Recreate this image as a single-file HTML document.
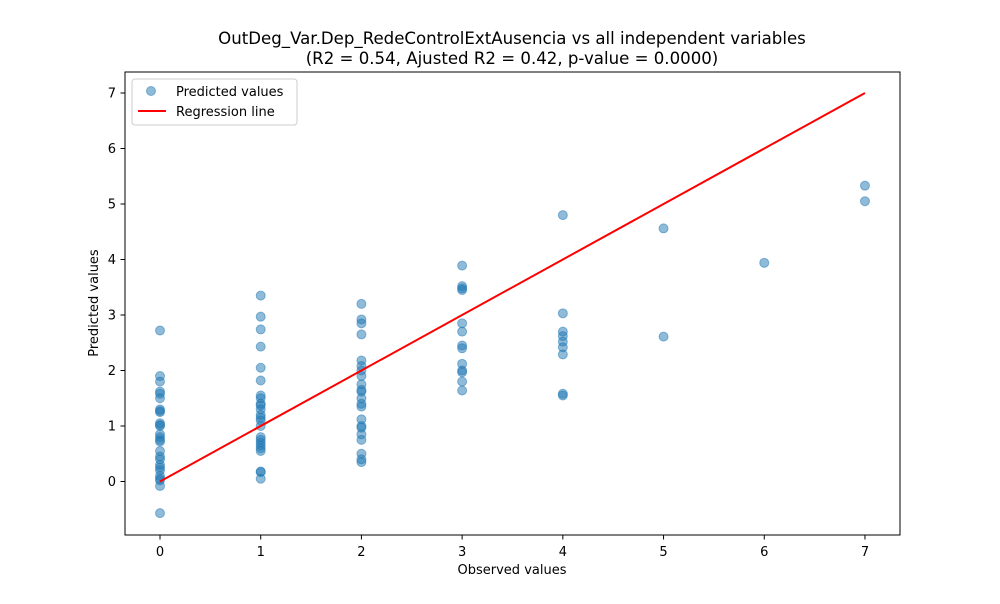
<!DOCTYPE html>
<html><head><meta charset="utf-8"><style>
body{margin:0;background:#fff;font-family:"DejaVu Sans","Liberation Sans",sans-serif}
</style></head><body>
<svg id="chart" width="1000" height="600" xmlns="http://www.w3.org/2000/svg" font-family="DejaVu Sans, Liberation Sans, sans-serif">
<rect width="1000" height="600" fill="#fff"/>
<text x="512" y="44" font-size="16.6" text-anchor="middle">OutDeg_Var.Dep_RedeControlExtAusencia vs all independent variables</text>
<text x="512" y="64" font-size="16.6" text-anchor="middle">(R2 = 0.54, Ajusted R2 = 0.42, p-value = 0.0000)</text>
<g id="ticks"></g>
<g id="points"></g>
<g id="line"></g>
<rect x="125" y="72" width="775" height="463" fill="none" stroke="#000" stroke-width="1"/>
<text x="512" y="574" font-size="13" text-anchor="middle">Observed values</text>
<text x="98" y="303" font-size="13" text-anchor="middle" transform="rotate(-90 98 303)">Predicted values</text>
<g>
<rect x="132" y="79" width="165" height="46" rx="3" fill="#fff" stroke="#ccc"/>
<circle cx="151" cy="91" r="4.5" fill="#1f77b4" fill-opacity="0.5" stroke="#1f77b4" stroke-opacity="0.5"/>
<text x="176" y="96" font-size="13">Predicted values</text>
<line x1="138" y1="111" x2="166" y2="111" stroke="red" stroke-width="2"/>
<text x="176" y="116" font-size="13">Regression line</text>
</g>
</svg>
<script>
const xTicks=[0,1,2,3,4,5,6,7];
const yTicks=[0,1,2,3,4,5,6,7];
const obsX=[0,0,0,0,0,0,0,0,0,0,0,0,0,0,0,0,0,0,0,0,0,0,0,0,0,0,0,
1,1,1,1,1,1,1,1,1,1,1,1,1,1,1,1,1,1,1,1,1,1,1,1,
2,2,2,2,2,2,2,2,2,2,2,2,2,2,2,2,2,2,2,2,2,2,
3,3,3,3,3,3,3,3,3,3,3,3,3,
4,4,4,4,4,4,4,4,4,5,5,6,7,7];
const predY=[2.72,1.9,1.8,1.62,1.58,1.5,1.3,1.27,1.25,1.05,1.02,1.0,0.85,0.8,0.75,0.72,0.55,0.45,0.4,0.3,0.25,0.2,0.1,0.05,0.02,-0.08,-0.57,
3.35,2.97,2.74,2.43,2.05,1.82,1.55,1.5,1.4,1.37,1.3,1.2,1.15,1.1,1.0,0.8,0.75,0.7,0.65,0.6,0.55,0.18,0.17,0.05,
3.2,2.92,2.85,2.65,2.18,2.08,2.0,1.9,1.75,1.65,1.62,1.5,1.4,1.35,1.12,1.0,0.97,0.85,0.75,0.5,0.4,0.35,
3.89,3.52,3.48,3.45,2.85,2.7,2.45,2.4,2.12,2.0,1.97,1.8,1.64,
4.8,3.03,2.7,2.62,2.52,2.42,2.29,1.58,1.55,4.56,2.61,3.94,5.33,5.05];
const lineX=[0,7];
const NS='http://www.w3.org/2000/svg';
const sx=v=>160+v*100.71, sy=v=>481.5-v*55.5;
function mk(t,a,p){const e=document.createElementNS(NS,t);for(const k in a)e.setAttribute(k,a[k]);p.appendChild(e);return e;}
const tg=document.getElementById('ticks');
xTicks.forEach(t=>{
const l=mk('line',{x1:sx(t),x2:sx(t),y1:535,y2:539.5,stroke:'#000'},tg);


const tx=mk('text',{x:sx(t),y:556,'font-size':13,'text-anchor':'middle'},tg);tx.textContent=t;


});
yTicks.forEach(t=>{
const l=mk('line',{x1:120.5,x2:125,y1:sy(t),y2:sy(t),stroke:'#000'},tg);


const tx=mk('text',{x:116,y:sy(t)+4.5,'font-size':13,'text-anchor':'end'},tg);tx.textContent=t;


});
const pg=document.getElementById('points');
obsX.forEach((x,i)=>{
const c=mk('circle',{cx:sx(x),cy:sy(predY[i]),r:4.5,fill:'#1f77b4','fill-opacity':0.5,stroke:'#1f77b4','stroke-opacity':0.5},pg);


});
const lg=document.getElementById('line');
const ln=mk('line',{x1:sx(lineX[0]),y1:sy(lineX[0]),x2:sx(lineX[1]),y2:sy(lineX[1]),stroke:'red','stroke-width':2},lg);


</script>
</body></html>
